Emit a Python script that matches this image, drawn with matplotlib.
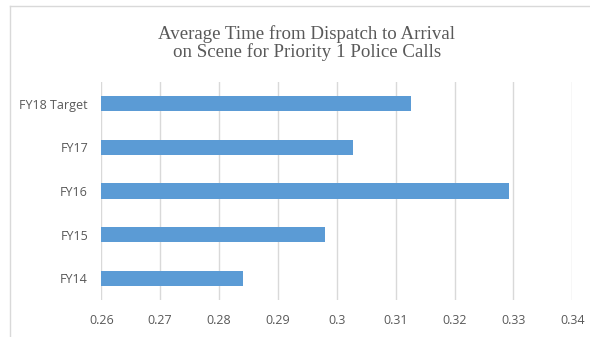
import matplotlib.pyplot as plt
from matplotlib.lines import Line2D

categories = ['FY14', 'FY15', 'FY16', 'FY17', 'FY18 Target']
values = [0.2841, 0.2980, 0.3292, 0.3028, 0.3126]
xticks = [0.26, 0.27, 0.28, 0.29, 0.30, 0.31, 0.32, 0.33, 0.34]
xtick_labels = ['0.26', '0.27', '0.28', '0.29', '0.3', '0.31', '0.32', '0.33', '0.34']

grey = '#595959'
W, H = 590, 337

fig = plt.figure(figsize=(5.9, 3.37), dpi=100)
ax = fig.add_axes([101.3 / W, 1 - 300 / H, 471 / W, 218 / H])

ax.barh(categories, values, height=0.35, color='#5b9bd5', zorder=3)
ax.set_xlim(0.26, 0.34)
ax.set_ylim(-0.5, 4.5)
ax.set_xticks(xticks)
ax.set_xticklabels(xtick_labels)

ax.grid(axis='x', color='#d9d9d9', linewidth=1, zorder=0)
for s in ax.spines.values():
    s.set_visible(False)
ax.tick_params(axis='both', length=0, labelsize=9, labelcolor=grey,
               labelfontfamily='Open Sans')
ax.tick_params(axis='x', pad=10)
ax.tick_params(axis='y', pad=9.5)

fig.text(307 / W, 1 - 56.7 / H,
         'Average Time from Dispatch to Arrival\non Scene for Priority 1 Police Calls',
         ha='center', va='baseline', fontsize=13.6, color=grey,
         family='Liberation Serif', linespacing=1.0)

# chart border (top and left edges)
bx, by = 9.5 / W, 1 - 6 / H
fig.add_artist(Line2D([bx, 1], [by, by], transform=fig.transFigure,
                      color='#d9d9d9', linewidth=1))
fig.add_artist(Line2D([bx, bx], [0, by], transform=fig.transFigure,
                      color='#d9d9d9', linewidth=1))

fig.savefig('out.png', dpi=100)
